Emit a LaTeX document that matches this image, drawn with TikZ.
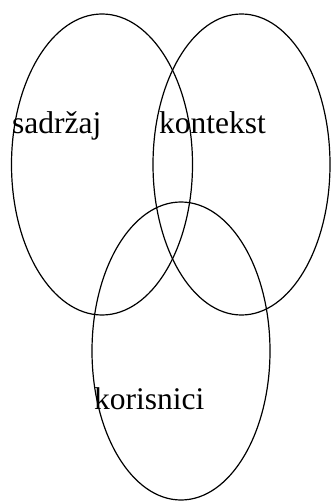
\documentclass[tikz,border=0pt]{standalone}
\usepackage{fontspec}
\setmainfont{Liberation Serif}
\usepackage{tikz}
\usetikzlibrary{shapes.geometric}

\begin{document}
\begin{tikzpicture}[
  x=1pt, y=-1pt,
  set/.style={draw, ellipse, line width=1.2pt, inner sep=0pt, minimum width=178pt, minimum height=301pt},
  lbl/.style={inner sep=0pt, anchor=base west, font=\fontsize{31.5}{36}\selectfont}
]
\useasboundingbox (0,0) rectangle (331,502);
\node[set, minimum width=181pt] (sadrzaj) at (102,164.5) {};
\node[set, minimum width=177pt] (kontekst) at (241.5,164.5) {};
\node[set, minimum height=298pt] (korisnici) at (181,351) {};

\node[lbl] (sadrzajlbl) at (12,134) {sadržaj};
\node[lbl] (kontekstlbl) at (159,134) {kontekst};
\node[lbl] (korisnicilbl) at (94,409) {korisnici};
\end{tikzpicture}
\end{document}
